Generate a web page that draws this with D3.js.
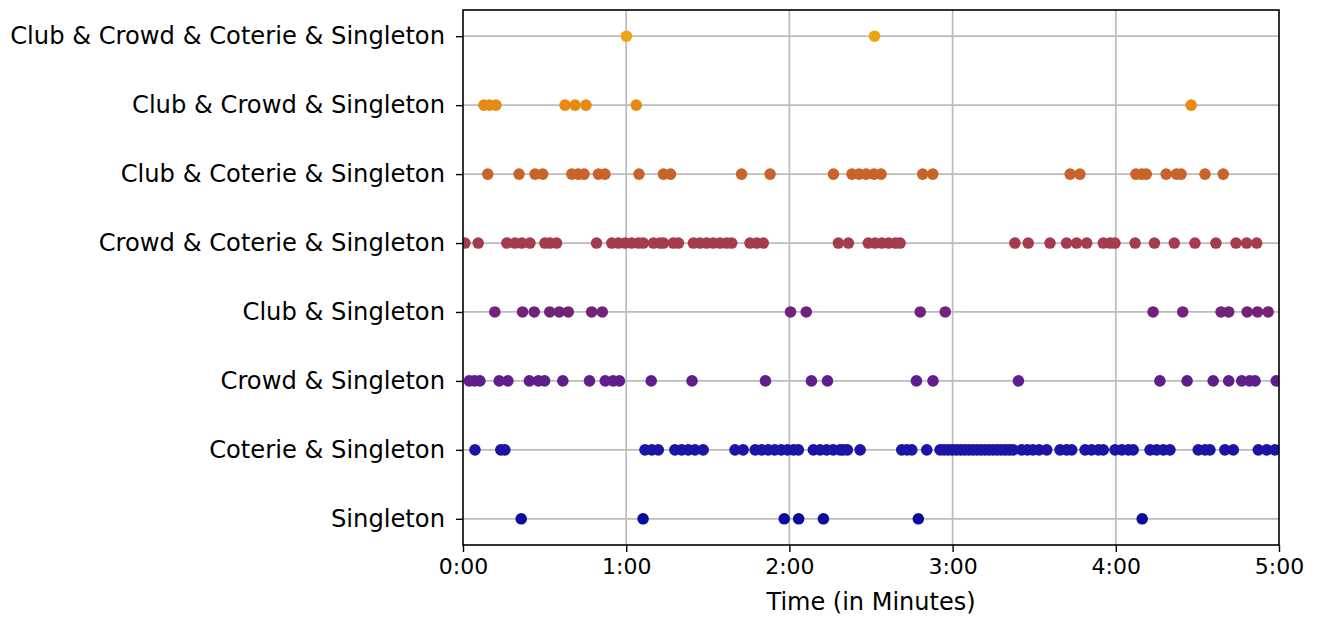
<!DOCTYPE html>
<html>
<head>
<meta charset="utf-8">
<script src="https://cdn.jsdelivr.net/npm/d3@7"></script>
<style>
  html, body { margin: 0; padding: 0; background: #fff; }
  svg { display: block; }
  text { font-family: "DejaVu Sans", sans-serif; fill: #000; }
</style>
</head>
<body>
<svg id="chart" width="1317" height="617"></svg>
<script>
// Categories, bottom to top
const categories = [
  "Singleton",
  "Coterie & Singleton",
  "Crowd & Singleton",
  "Club & Singleton",
  "Crowd & Coterie & Singleton",
  "Club & Coterie & Singleton",
  "Club & Crowd & Singleton",
  "Club & Crowd & Coterie & Singleton"
];

// Event times in seconds, one array per category
const singleton = [21.4, 66.2, 118.1, 123.4, 132.5, 167.4, 249.7];

const coterieSingleton = [4.4, 13.9, 15.4, 66.9, 69.4, 71.8, 77.9, 80.4, 82.8, 85.3, 88.3,
  100, 103, 107.4, 109.8, 112.2, 114.6, 117, 119.3, 121.5, 123.3, 128.8, 131.3, 133.7, 136.1,
  138.6, 139.8, 141.3, 146, 161.3, 163.2, 165, 170.5, 175.4, 176.9, 178.4, 179.9, 181.4,
  182.9, 184.4, 185.9, 187.4, 188.9, 190.4, 191.9, 193.4, 194.9, 196.4, 197.9, 199.4, 200.9,
  202.3, 205.4, 207.5, 209.5, 211.8, 214.6, 219.5, 221.9, 223.8, 228.7, 231.1, 233.6, 235.4,
  239.7, 242.2, 244.6, 246.4, 252.6, 255, 257.5, 259.9, 270.3, 272.8, 274.6, 280.1, 283.2,
  292.4, 295.5, 298.5];

const crowdSingleton = [2.3, 4.2, 6.2, 13.3, 16.5, 24.4, 27.7, 30, 36.7, 46.5, 52.3, 55.2,
  57.5, 69.2, 84.2, 111.2, 128.1, 134, 166.7, 172.8, 204.2, 256.2, 266.2, 275.8, 281.5,
  286.3, 289.2, 291.2, 299];

const clubSingleton = [11.7, 21.9, 26.2, 31.9, 35.4, 38.7, 47.3, 51.2, 120.4, 126.2, 168.1,
  177.3, 253.7, 264.6, 278.7, 281.5, 288.3, 292.1, 296];

const crowdCoterieSingleton = [0.7, 5.6, 16.1, 19.1, 21.6, 24.6, 30.1, 32, 34.4, 49.1, 54.7,
  57.1, 59.6, 62, 64.5, 66.3, 70, 72.4, 73.7, 77.3, 79.2, 84.7, 87.1, 89.6, 92, 94.5, 96.9,
  98.8, 105.5, 108, 110.4, 138, 141.7, 149, 151.5, 154, 156.5, 159, 160.7, 202.9, 207.8,
  215.8, 221.9, 225.6, 229.3, 235.4, 237.9, 239.7, 247.1, 254.2, 261.5, 269.1, 276.8, 284.2,
  288.1, 291.8];

const clubCoterieSingleton = [9.1, 20.6, 26.5, 29.3, 40, 42.4, 44.5, 49.8, 52.2, 64.7, 73.7,
  76.3, 102.4, 112.9, 136.2, 143, 145.6, 148.2, 151.1, 153.7, 169, 172.7, 223.2, 226.8,
  247.4, 249.5, 251.2, 258.5, 262.3, 264, 272.8, 279.5];

const clubCrowdSingleton = [7.7, 9.8, 12.1, 37.5, 41.2, 45.2, 63.7, 267.7];

const clubCrowdCoterieSingleton = [60.1, 151.3];

const seriesValues = [singleton, coterieSingleton, crowdSingleton, clubSingleton,
  crowdCoterieSingleton, clubCoterieSingleton, clubCrowdSingleton, clubCrowdCoterieSingleton];

const seriesColors = ["#0b0c9e", "#1c14a6", "#5e1f8c", "#722379", "#a53c4e", "#c8632a", "#e88a12", "#eba512"];

const xTickValues = [0, 60, 120, 180, 240, 300];
const xTickLabels = ["0:00", "1:00", "2:00", "3:00", "4:00", "5:00"];
const xAxisTitle = "Time (in Minutes)";

// Layout
const margin = { left: 463, right: 1317 - 1279, top: 10, bottom: 617 - 545 };
const W = 1317, H = 617;
const plotW = W - margin.left - margin.right;
const plotH = H - margin.top - margin.bottom;

const svg = d3.select("#chart");
const g = svg.append("g").attr("transform", `translate(${margin.left},${margin.top})`);

const x = d3.scaleLinear().domain([0, 300]).range([0, plotW]);
const y = d3.scalePoint().domain(categories).range([plotH, 0]).padding(0.38);

svg.append("defs").append("clipPath").attr("id", "plotclip")
  .append("rect").attr("x", 0).attr("y", 0).attr("width", plotW).attr("height", plotH);

// Grid
const gridColor = "#bcbcbc";
g.append("g").selectAll("line.vg").data(xTickValues.slice(1, -1)).join("line")
  .attr("x1", d => x(d)).attr("x2", d => x(d)).attr("y1", 0).attr("y2", plotH)
  .attr("stroke", gridColor).attr("stroke-width", 1.7);
g.append("g").selectAll("line.hg").data(categories).join("line")
  .attr("x1", 0).attr("x2", plotW).attr("y1", d => y(d)).attr("y2", d => y(d))
  .attr("stroke", gridColor).attr("stroke-width", 1.7);

// Points
const pts = g.append("g").attr("clip-path", "url(#plotclip)");
categories.forEach((cat, i) => {
  pts.append("g").selectAll("circle").data(seriesValues[i]).join("circle")
    .attr("cx", d => x(d)).attr("cy", y(cat)).attr("r", 5.8)
    .attr("fill", seriesColors[i]);
});

// Frame
g.append("rect").attr("x", 0).attr("y", 0).attr("width", plotW).attr("height", plotH)
  .attr("fill", "none").attr("stroke", "#000").attr("stroke-width", 1.6);

// X axis
const xAxis = d3.axisBottom(x).tickValues(xTickValues)
  .tickFormat((d, i) => xTickLabels[i]).tickSize(7).tickPadding(6);
const xg = g.append("g").attr("transform", `translate(0,${plotH})`).call(xAxis);
xg.select(".domain").remove();
xg.selectAll(".tick line").attr("stroke", "#000").attr("stroke-width", 1.4);
xg.selectAll(".tick text").attr("font-size", 22).attr("font-family", "DejaVu Sans").attr("fill", "#000");

// Y axis
const yAxis = d3.axisLeft(y).tickSize(7).tickPadding(11);
const yg = g.append("g").call(yAxis);
yg.select(".domain").remove();
yg.selectAll(".tick line").attr("stroke", "#000").attr("stroke-width", 1.4);
yg.selectAll(".tick text").attr("font-size", 24.2).attr("font-family", "DejaVu Sans").attr("fill", "#000");

// Axis title
svg.append("text").attr("x", margin.left + plotW / 2).attr("y", 610)
  .attr("text-anchor", "middle").attr("font-size", 24).text(xAxisTitle);
</script>
</body>
</html>
